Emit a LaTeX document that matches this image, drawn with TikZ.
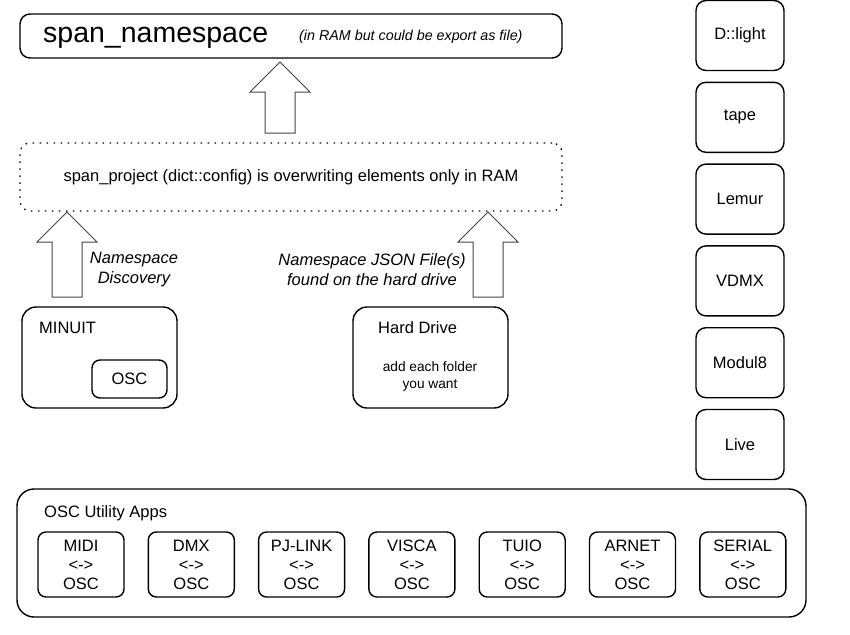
\documentclass[tikz,border=0pt]{standalone}
\usepackage{fontspec}
\setmainfont{Liberation Sans}
\usetikzlibrary{calc, positioning}

\newcommand{\fsize}[2]{\fontsize{#1pt}{#2pt}\selectfont}

\begin{document}
\begin{tikzpicture}[x=1pt, y=-1pt,
    box/.style={draw=borderColour, line width=1.4pt, rounded corners=10pt, inner sep=0pt, font=\fsize{16.5}{19}},
    smallbox/.style={box, rounded corners=8pt},
    txt/.style={inner sep=0pt, font=\fsize{16.5}{19}},
    hollow/.style={draw=arrowColour, line width=1pt, fill=white, line join=miter}]

    \definecolor{borderColour}{HTML}{000000}
    \definecolor{arrowColour}{HTML}{444444}

    % Fix the page size
    \useasboundingbox[fill=white] (0,0) rectangle (850,634);

    % Namespace on top
    \node[box, minimum width=542pt, minimum height=44pt] (namespace) at (291,36) {};
    \node[txt, anchor=base west, font=\fsize{28.5}{32}] (nsTitle) at (43,43) {span\_namespace};
    \node[txt, anchor=base west, font=\fsize{14.3}{16}\itshape] (nsNote) at (299,41) {(in RAM but could be export as file)};

    % Project layer
    \node[box, dash pattern=on 1.5pt off 5.5pt, line width=1.3pt, minimum width=542pt, minimum height=68pt] (project) at (291,177)
        {span\_project (dict::config) is overwriting elements only in RAM};

    % Sources
    \node[box, rounded corners=14pt, minimum width=155pt, minimum height=101pt] (minuit) at (99.5,357.5) {};
    \node[txt, anchor=west] (minuitTitle) at (39,328) {MINUIT};
    \node[smallbox, minimum width=75pt, minimum height=38pt] (minuitOsc) at (129.5,379) {OSC};

    \node[box, rounded corners=14pt, minimum width=155pt, minimum height=101pt] (harddrive) at (430.5,357.5) {};
    \node[txt, anchor=west] (hdTitle) at (378,328) {Hard Drive};
    \node[txt, align=center, font=\fsize{13.7}{17}] (hdNote) at (430,376.5) {add each folder\\you want};

    % Hollow arrows
    \coordinate (tipA) at (280,62);
    \coordinate (tipB) at (67,212);
    \coordinate (tipC) at (488,212);
    \foreach \tip/\len in {tipA/41, tipB/55, tipC/55}
        \draw[hollow] (\tip) -- ++(30,30) -- ++(-15,0) -- ++(0,\len) -- ++(-30,0) -- ++(0,-\len) -- ++(-15,0) -- cycle;

    \node[txt, align=center, font=\fsize{16.5}{20}\itshape] (discovery) at (134,270) {Namespace\\Discovery};
    \node[txt, align=center, font=\fsize{16.5}{20}\itshape] (jsonFiles) at (372,270) {Namespace JSON File(s)\\found on the hard drive};

    % Applications column
    \foreach \name [count=\i from 0] in {D::light, tape, Lemur, VDMX, Modul8, Live}
        \node[smallbox, rounded corners=10pt, minimum width=88pt, minimum height=70pt] (side\i) at (740,35.5+81.8*\i) {\name};

    % OSC utility apps
    \node[box, rounded corners=17pt, minimum width=789pt, minimum height=128pt] (utilities) at (411.5,553) {};
    \node[txt, anchor=west] (utilTitle) at (44,513) {OSC Utility Apps};
    \foreach \app [count=\i from 0] in {MIDI, DMX, PJ-LINK, VISCA, TUIO, ARNET, SERIAL}
        \node[smallbox, align=center, minimum width=86pt, minimum height=65pt] (app\i) at (81+110.3*\i,564.5) {\app\\<->\\OSC};

\end{tikzpicture}
\end{document}
